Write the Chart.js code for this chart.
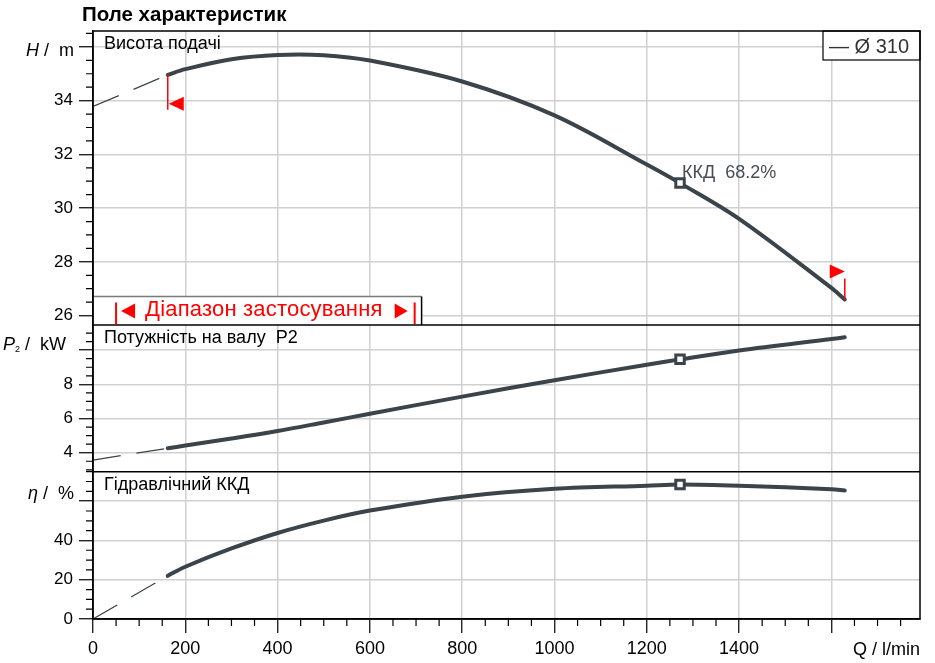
<!DOCTYPE html>
<html>
<head>
<meta charset="utf-8">
<script src="https://cdn.jsdelivr.net/npm/chart.js@4.4.1/dist/chart.umd.min.js"></script>
<style>
  html, body { margin: 0; padding: 0; background: #fff; }
  #wrap { width: 935px; height: 663px; }
</style>
</head>
<body>
<div id="wrap"><canvas id="pumpChart" width="935" height="663"></canvas></div>
<script>
// Q in l/min
const flow  = [162, 200, 300, 400, 500, 600, 800, 1000, 1200, 1272, 1400, 1600, 1629];
const head  = [34.96, 35.17, 35.54, 35.70, 35.69, 35.49, 34.71, 33.45, 31.62, 30.93, 29.60, 27.03, 26.60];
const power = [4.26, 4.42, 4.83, 5.27, 5.77, 6.28, 7.28, 8.24, 9.15, 9.46, 9.98, 10.65, 10.75];
const eta   = [22.0, 26.6, 35.9, 43.8, 50.1, 55.2, 62.3, 66.3, 67.9, 68.5, 67.9, 66.1, 65.4];

// dashed part left of the operating range
const extFlow  = [0, 162];
const extHead  = [33.78, 34.96];
const extPower = [3.57, 4.26];
const extEta   = [0, 22.0];

// best efficiency point
const bepFlow  = [1272];
const bepHead  = [30.93];
const bepPower = [9.46];
const bepEta   = [68.5];
const bepText  = 'ККД  68.2%';

const flowTicks  = [0, 200, 400, 600, 800, 1000, 1200, 1400, 1600];
const headTicks  = [26, 28, 30, 32, 34, 36];
const powerTicks = [4, 6, 8, 10];
const etaTicks   = [0, 20, 40, 60];

const rangeFlow = [50, 697];
const impeller = '— Ø 310';

const lineColor = '#3b434b';
const gridColor = '#d0d0d0';
const fontFamily = "'Liberation Sans', Arial, sans-serif";

function toPoints(xs, ys) {
    return xs.map((x, i) => ({ x, y: ys[i] }));
}

function curve(xs, ys, axis) {
    return {
        data: toPoints(xs, ys),
        yAxisID: axis,
        borderColor: lineColor,
        borderWidth: 4,
        borderCapStyle: 'round',
        pointRadius: 0,
        tension: 0.35,
        order: 2,
    };
}

function extension(xs, ys, axis) {
    return {
        data: toPoints(xs, ys),
        yAxisID: axis,
        borderColor: lineColor,
        borderWidth: 1.2,
        borderDash: [28, 16],
        pointRadius: 0,
        order: 3,
    };
}

function bepMarker(xs, ys, axis) {
    return {
        data: toPoints(xs, ys),
        yAxisID: axis,
        showLine: false,
        pointStyle: 'rect',
        pointRadius: 6,
        pointBorderWidth: 3,
        pointBackgroundColor: '#fff',
        pointBorderColor: lineColor,
        order: 1,
    };
}

function panelAxis(min, max, weight, ticks) {
    return {
        type: 'linear',
        position: 'left',
        stack: 'panels',
        stackWeight: weight,
        min,
        max,
        afterBuildTicks: scale => { scale.ticks = ticks.map(v => ({ value: v })); },
        afterFit: scale => { scale.width = 93; },
        ticks: {
            callback: v => (v === ticks[ticks.length - 1] ? '' : String(v)),
            font: { family: fontFamily, size: 17 },
            color: '#000',
            padding: 6,
        },
        grid: { color: gridColor, lineWidth: 1.5, tickLength: 14, tickColor: '#000', tickWidth: 1.2 },
        border: { color: '#000', width: 1.5 },
    };
}

function minorPixels(scale, step, majors) {
    const out = [];
    const first = Math.ceil(scale.min / step - 1e-9);
    const last = Math.floor(scale.max / step + 1e-9);
    for (let k = first; k <= last; k++) {
        const v = +(k * step).toFixed(6);
        if (!majors.includes(v)) out.push(scale.getPixelForValue(v));
    }
    return out;
}

function drawParts(ctx, parts, right, baseline) {
    let total = 0;
    for (const p of parts) {
        ctx.font = p.font;
        total += ctx.measureText(p.text).width;
    }
    let x = right - total;
    for (const p of parts) {
        ctx.font = p.font;
        ctx.fillText(p.text, x, baseline + (p.dy || 0));
        x += ctx.measureText(p.text).width;
    }
}

function triangle(ctx, ax, ay, bx, half) {
    ctx.beginPath();
    ctx.moveTo(ax, ay);
    ctx.lineTo(bx, ay - half);
    ctx.lineTo(bx, ay + half);
    ctx.closePath();
    ctx.fill();
}

const decorPlugin = {
    id: 'decor',
    afterDraw(chart) {
        const { ctx, chartArea: a, scales } = chart;
        const x = scales.x, yH = scales.yH, yP = scales.yP, yE = scales.yEta;
        ctx.save();

        // minor ticks
        ctx.strokeStyle = '#000';
        ctx.lineWidth = 1.2;
        ctx.beginPath();
        const yMinor = [
            ...minorPixels(yH, 0.5, headTicks),
            ...minorPixels(yP, 0.5, powerTicks),
            ...minorPixels(yE, 5, etaTicks),
        ];
        for (const py of yMinor) { ctx.moveTo(a.left - 7, py); ctx.lineTo(a.left, py); }
        for (const px of minorPixels(x, 50, flowTicks)) { ctx.moveTo(px, a.bottom); ctx.lineTo(px, a.bottom + 7); }
        ctx.stroke();

        // range box
        const rx0 = a.left, rx1 = x.getPixelForValue(712);
        const ry0 = yH.getPixelForValue(26.71), ry1 = yH.bottom;
        ctx.fillStyle = '#fff';
        ctx.fillRect(rx0 + 1, ry0, rx1 - rx0 - 1, ry1 - ry0);
        ctx.lineWidth = 1.5;
        ctx.strokeStyle = '#7a7a7a';
        ctx.beginPath(); ctx.moveTo(rx0, ry0); ctx.lineTo(rx1, ry0); ctx.stroke();
        ctx.strokeStyle = '#000';
        ctx.beginPath(); ctx.moveTo(rx1, ry0); ctx.lineTo(rx1, ry1); ctx.stroke();

        ctx.strokeStyle = '#ff0000';
        ctx.fillStyle = '#ff0000';
        ctx.lineWidth = 2;
        const xl = x.getPixelForValue(rangeFlow[0]);
        const xr = x.getPixelForValue(rangeFlow[1]);
        const mid = ry0 + 14.5;
        ctx.beginPath();
        ctx.moveTo(xl, ry0 + 6); ctx.lineTo(xl, ry1 - 1);
        ctx.moveTo(xr, ry0 + 6); ctx.lineTo(xr, ry1 - 1);
        ctx.stroke();
        triangle(ctx, xl + 5, mid, xl + 19, 7.5);
        triangle(ctx, xr - 7, mid, xr - 20, 7.5);
        const rangeText = 'Діапазон застосування';
        ctx.font = '22px ' + fontFamily;
        const span = (xr - 32) - (xl + 29);
        const w = ctx.measureText(rangeText).width;
        if ('letterSpacing' in ctx) ctx.letterSpacing = ((span - w) / rangeText.length).toFixed(2) + 'px';
        ctx.textAlign = 'left';
        ctx.textBaseline = 'alphabetic';
        ctx.fillText(rangeText, xl + 29, ry1 - 9);
        if ('letterSpacing' in ctx) ctx.letterSpacing = '0px';

        // limits of the curve
        ctx.lineWidth = 1.5;
        const sx = x.getPixelForValue(flow[0]), sy = yH.getPixelForValue(head[0]);
        const n = flow.length - 1;
        const ex = x.getPixelForValue(flow[n]), ey = yH.getPixelForValue(head[n]);
        ctx.beginPath();
        ctx.moveTo(sx, sy); ctx.lineTo(sx, sy + 35);
        ctx.moveTo(ex, ey); ctx.lineTo(ex, ey - 21);
        ctx.stroke();
        triangle(ctx, sx + 1, sy + 29, sx + 16, 7);
        triangle(ctx, ex, ey - 28, ex - 15, 7);

        // legend box
        const bw = 97, bh = 29;
        ctx.fillStyle = '#fff';
        ctx.fillRect(a.right - bw, a.top, bw, bh);
        ctx.strokeStyle = '#000';
        ctx.lineWidth = 1.2;
        ctx.strokeRect(a.right - bw, a.top, bw, bh);
        ctx.fillStyle = '#333';
        ctx.font = '20px ' + fontFamily;
        ctx.fillText(impeller, a.right - bw + 6, a.top + 22);

        // panel separators and frame
        ctx.strokeStyle = '#000';
        ctx.lineWidth = 1.5;
        ctx.beginPath();
        ctx.moveTo(a.left, yH.bottom); ctx.lineTo(a.right, yH.bottom);
        ctx.moveTo(a.left, yP.bottom); ctx.lineTo(a.right, yP.bottom);
        ctx.stroke();
        ctx.strokeRect(a.left, a.top, a.right - a.left, a.bottom - a.top);

        // BEP label
        const bx = x.getPixelForValue(bepFlow[0]), by = yH.getPixelForValue(bepHead[0]);
        ctx.fillStyle = '#454e57';
        ctx.font = '18px ' + fontFamily;
        ctx.fillText(bepText, bx + 2, by - 5);

        // titles
        ctx.fillStyle = '#000';
        ctx.font = 'bold 20.5px ' + fontFamily;
        ctx.fillText('Поле характеристик', 82, 21);
        ctx.font = '18px ' + fontFamily;
        ctx.fillText('Висота подачі', a.left + 11, yH.top + 18);
        ctx.fillText('Потужність на валу  P2', a.left + 11, yP.top + 18);
        ctx.fillText('Гідравлічний ККД', a.left + 11, yE.top + 18);

        const it = 'italic 18px ' + fontFamily, up = '18px ' + fontFamily;
        drawParts(ctx, [{ text: 'H', font: it }, { text: ' /  m', font: up }], 74, yH.top + 25);
        drawParts(ctx, [{ text: 'P', font: it }, { text: '2', font: '9px ' + fontFamily, dy: 2 }, { text: ' /  kW', font: up }], 66, yP.top + 25);
        drawParts(ctx, [{ text: 'η', font: it }, { text: ' /  %', font: up }], 74, yE.top + 27);

        ctx.textAlign = 'right';
        ctx.font = '18px ' + fontFamily;
        ctx.fillText('Q / l/min', a.right, a.bottom + 36);

        ctx.restore();
    },
};

new Chart(document.getElementById('pumpChart'), {
    type: 'line',
    data: {
        datasets: [
            bepMarker(bepFlow, bepHead, 'yH'),
            bepMarker(bepFlow, bepPower, 'yP'),
            bepMarker(bepFlow, bepEta, 'yEta'),
            curve(flow, head, 'yH'),
            curve(flow, power, 'yP'),
            curve(flow, eta, 'yEta'),
            extension(extFlow, extHead, 'yH'),
            extension(extFlow, extPower, 'yP'),
            extension(extFlow, extEta, 'yEta'),
        ],
    },
    options: {
        responsive: false,
        animation: false,
        layout: { padding: { top: 31, right: 15, left: 0, bottom: 0 } },
        plugins: { legend: { display: false }, tooltip: { enabled: false } },
        scales: {
            x: {
                type: 'linear',
                min: 0,
                max: 1792,
                afterBuildTicks: scale => { scale.ticks = flowTicks.map(v => ({ value: v })); },
                afterFit: scale => { scale.height = 44; },
                ticks: {
                    callback: v => (v === flowTicks[flowTicks.length - 1] ? '' : String(v)),
                    font: { family: fontFamily, size: 18 },
                    color: '#000',
                    padding: 5,
                    maxRotation: 0,
                    autoSkip: false,
                },
                grid: { color: gridColor, lineWidth: 1.5, tickLength: 14, tickColor: '#000', tickWidth: 1.2 },
                border: { color: '#000', width: 1.5 },
            },
            yEta: panelAxis(0, 75, 147.3, etaTicks),
            yP: panelAxis(2.89, 11.47, 146.7, powerTicks),
            yH: panelAxis(25.65, 36.59, 294, headTicks),
        },
    },
    plugins: [decorPlugin],
});
</script>
</body>
</html>
